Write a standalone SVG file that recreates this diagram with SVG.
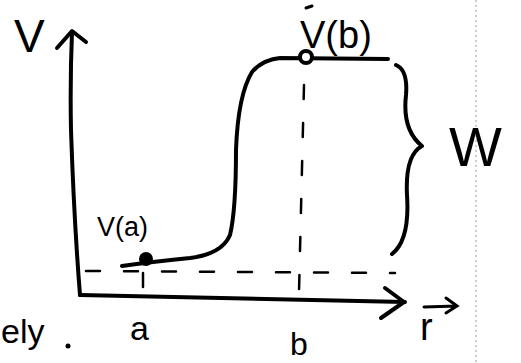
<svg xmlns="http://www.w3.org/2000/svg" width="521" height="363" viewBox="0 0 521 363">
<style>
.ink{fill:none;stroke:#000;stroke-width:4;stroke-linecap:round;stroke-linejoin:round}
.thin{fill:none;stroke:#000;stroke-width:3;stroke-linecap:round}
.dash{fill:none;stroke:#000;stroke-width:2.5;stroke-dasharray:14 24;stroke-linecap:round}
.t{font-family:"Liberation Sans",Arial,sans-serif;fill:#000}
</style>
<rect width="521" height="363" fill="#fff"/>
<line x1="476" y1="0" x2="476" y2="363" stroke="#999" stroke-width="1" stroke-dasharray="2 3"/>
<g id="axes">
<path class="ink" d="M80 295 Q74 220 71 130 Q70 80 72 32"/>
<path class="ink" d="M57 48 L72 31 L86 42"/>
<path class="ink" d="M80 295 L405 302"/>
<path class="ink" d="M385 288 L404 302 L381 318"/>
</g>
<g id="guides">
<path class="dash" d="M86 271 L395 273"/>
<path class="dash" d="M143 273 L143 296"/>
<path class="dash" d="M304 85 L299 292" stroke-dasharray="10 35"/>
</g>
<g id="curve">
<path class="ink" d="M122 266 Q150 262 190 258 Q222 254 230 235 Q236 210 236 150 Q238 95 252 72 Q262 60 280 58 L388 59"/>
<circle cx="146" cy="259" r="7"/>
<circle cx="306" cy="57" r="6" fill="#fff" stroke="#000" stroke-width="4"/>
</g>
<g id="brace">
<path class="ink" d="M396 65 Q408 70 406 95 Q402 130 422 146 Q405 155 407 195 Q410 240 392 254"/>
</g>
<g id="labels">
<text class="t" x="14" y="52" font-size="46">V</text>
<text class="t" x="97" y="236" font-size="27">V(a)</text>
<text class="t" x="300" y="48" font-size="38">V(b)</text>
<path class="thin" d="M306 8 L312 6"/>
<text class="t" x="449" y="166" font-size="56">W</text>
<text class="t" x="130" y="340" font-size="34">a</text>
<text class="t" x="290" y="355" font-size="32">b</text>
<text class="t" x="420" y="340" font-size="38">r</text>
<path class="thin" d="M424 307 L457 306 M446 298 L457 306 L446 313"/>
<text class="t" x="1" y="343" font-size="34">ely</text>
<circle cx="68" cy="346" r="2.5"/>
</g>
</svg>
